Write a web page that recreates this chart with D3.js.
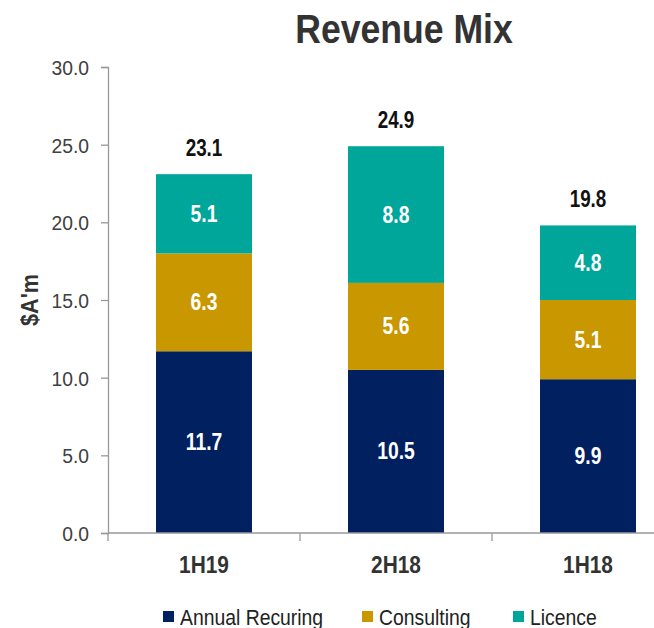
<!DOCTYPE html>
<html>
<head>
<meta charset="utf-8">
<script src="https://cdn.jsdelivr.net/npm/d3@7"></script>
<style>
  body { margin: 0; background: #fff; }
  svg { display: block; font-family: "Liberation Sans Narrow", "Arial Narrow", "Liberation Sans", Arial, sans-serif; }
</style>
</head>
<body>
<div id="chart"></div>
<script>
// chart data
var periods = ["1H19", "2H18", "1H18"];
var seriesNames = ["Annual Recuring", "Consulting", "Licence"];
var annualRecurring = [11.7, 10.5, 9.9];
var consulting = [6.3, 5.6, 5.1];
var licence = [5.1, 8.8, 4.8];
var totals = [23.1, 24.9, 19.8];
var yTicks = [0, 5, 10, 15, 20, 25, 30];
var colors = ["#002060", "#C99700", "#00A699"];

var W = 654, H = 628;
var margin = {top: 67, left: 108, bottom: 95};

var svg = d3.select("#chart").append("svg")
    .attr("width", W)
    .attr("height", H);

// no narrow font here, so squeeze the text sideways instead
function squeeze(k) {
  return function(sel) {
    sel.each(function() {
      var t = d3.select(this);
      var tx = +t.attr("x") || 0, ty = +t.attr("y") || 0;
      t.attr("x", 0).attr("y", 0)
       .attr("transform", "translate(" + tx + "," + ty + ") scale(" + k + ",1)");
    });
  };
}

// the plot area runs past the right edge of the picture
var x = d3.scaleBand()
    .domain(periods)
    .range([margin.left, 684])
    .paddingInner(0.5)
    .paddingOuter(0.25);

var y = d3.scaleLinear()
    .domain([0, 30])
    .range([H - margin.bottom, margin.top]);

// stack the three series
var rows = periods.map(function(p, i) {
  return {period: p, "Annual Recuring": annualRecurring[i], "Consulting": consulting[i], "Licence": licence[i]};
});
var stacked = d3.stack().keys(seriesNames)(rows);

// title
svg.append("text")
    .attr("x", 404)
    .attr("y", 43)
    .attr("text-anchor", "middle")
    .style("font-size", "40px")
    .style("font-weight", "bold")
    .style("fill", "#333")
    .text("Revenue Mix")
    .call(squeeze(0.89));

// y axis
var yAxis = svg.append("g")
    .attr("transform", "translate(" + margin.left + ",0)")
    .call(d3.axisLeft(y).tickValues(yTicks).tickFormat(d3.format(".1f")).tickSize(7).tickPadding(12));
yAxis.select(".domain").attr("stroke", "#999").attr("stroke-width", 1.3);
yAxis.selectAll(".tick line").attr("stroke", "#999").attr("stroke-width", 1.3);
yAxis.selectAll(".tick text")
    .style("font-size", "21px")
    .style("fill", "#404040")
    .attr("dy", "0.36em")
    .call(squeeze(0.92));

svg.append("text")
    .attr("x", 0)
    .attr("y", 0)
    .attr("transform", "translate(38," + y(15) + ") rotate(-90) scale(0.9,1)")
    .attr("text-anchor", "middle")
    .style("font-size", "24px")
    .style("font-weight", "bold")
    .style("fill", "#333")
    .text("$A'm");

// bars
var layer = svg.selectAll(".layer")
    .data(stacked)
  .enter().append("g")
    .attr("class", "layer")
    .attr("fill", function(d, i) { return colors[i]; });

layer.selectAll("rect")
    .data(function(d) { return d; })
  .enter().append("rect")
    .attr("x", function(d) { return x(d.data.period); })
    .attr("y", function(d) { return y(d[1]); })
    .attr("width", x.bandwidth())
    .attr("height", function(d) { return y(d[0]) - y(d[1]); });

layer.selectAll("text")
    .data(function(d) { return d; })
  .enter().append("text")
    .attr("x", function(d) { return x(d.data.period) + x.bandwidth() / 2; })
    .attr("y", function(d) { return y((d[0] + d[1]) / 2) + 8; })
    .attr("text-anchor", "middle")
    .style("font-size", "23px")
    .style("font-weight", "bold")
    .style("fill", "#fff")
    .text(function(d) { return d3.format(".1f")(d[1] - d[0]); })
    .call(squeeze(0.84));

// totals above bars
svg.selectAll(".total")
    .data(periods)
  .enter().append("text")
    .attr("class", "total")
    .attr("x", function(d) { return x(d) + x.bandwidth() / 2; })
    .attr("y", function(d, i) { return y(totals[i]) - 18; })
    .attr("text-anchor", "middle")
    .style("font-size", "23px")
    .style("font-weight", "bold")
    .style("fill", "#111")
    .text(function(d, i) { return d3.format(".1f")(totals[i]); })
    .call(squeeze(0.82));

// x axis
var x0 = y(0);
svg.append("line")
    .attr("x1", margin.left).attr("x2", W)
    .attr("y1", x0).attr("y2", x0)
    .attr("stroke", "#999").attr("stroke-width", 1.3);
svg.selectAll(".xtick")
    .data(periods)
  .enter().append("line")
    .attr("class", "xtick")
    .attr("x1", function(d) { return x(d) - x.step() * x.paddingInner() / 2; })
    .attr("x2", function(d) { return x(d) - x.step() * x.paddingInner() / 2; })
    .attr("y1", x0).attr("y2", x0 + 8)
    .attr("stroke", "#999").attr("stroke-width", 1.3);
svg.selectAll(".xlabel")
    .data(periods)
  .enter().append("text")
    .attr("class", "xlabel")
    .attr("x", function(d) { return x(d) + x.bandwidth() / 2; })
    .attr("y", 573)
    .attr("text-anchor", "middle")
    .style("font-size", "24px")
    .style("font-weight", "bold")
    .style("fill", "#333")
    .text(function(d) { return d; })
    .call(squeeze(0.87));

// legend
var legendX = [163, 362, 513];
var legend = svg.selectAll(".legend")
    .data(seriesNames)
  .enter().append("g")
    .attr("class", "legend")
    .attr("transform", function(d, i) { return "translate(" + legendX[i] + ",611)"; });
legend.append("rect")
    .attr("width", 11).attr("height", 11)
    .attr("fill", function(d, i) { return colors[i]; });
legend.append("text")
    .attr("x", 17)
    .attr("y", 14)
    .style("font-size", "22px")
    .style("fill", "#222")
    .text(function(d) { return d; })
    .call(squeeze(0.88));
</script>
</body>
</html>
